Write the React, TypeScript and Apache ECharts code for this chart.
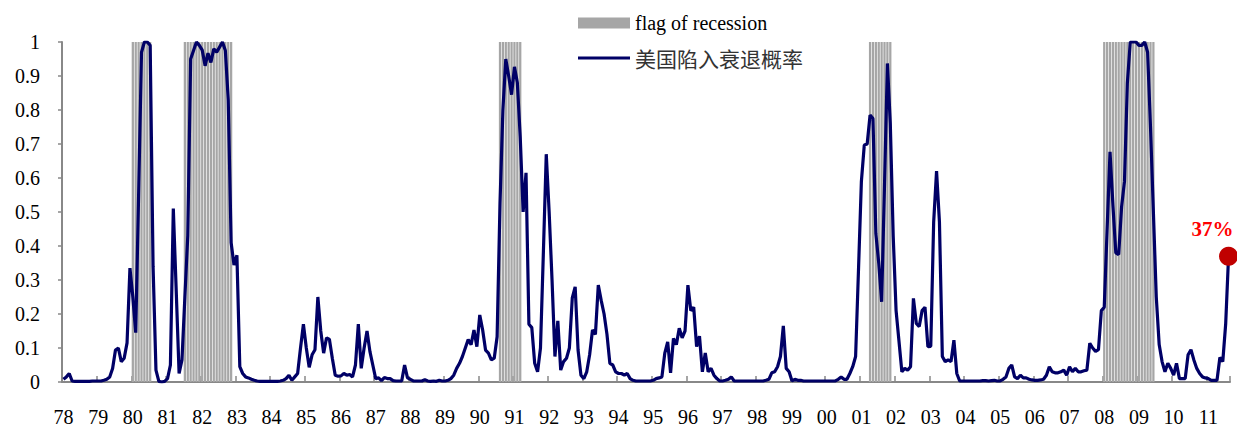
import React, { useEffect, useRef } from "react";
import * as echarts from "echarts";

const START_YEAR = 1978;

// Monthly probability of US recession, Jan 1978 – Aug 2011 (one row per year)
const probability: number[] = [
  0.008, 0.015, 0.025, 0.003, 0.002, 0.002, 0.002, 0.002, 0.002, 0.002, 0.003, 0.003, // 1978
  0.003, 0.003, 0.005, 0.008, 0.015, 0.04, 0.094, 0.1, 0.06, 0.07, 0.115, 0.335, // 1979
  0.25, 0.145, 0.55, 0.97, 1.0, 1.0, 0.99, 0.34, 0.035, 0.002, 0.0, 0.002, // 1980
  0.01, 0.05, 0.51, 0.27, 0.025, 0.065, 0.25, 0.43, 0.95, 0.975, 1.0, 0.99, // 1981
  0.976, 0.93, 0.967, 0.94, 0.98, 0.97, 0.985, 1.0, 0.975, 0.83, 0.41, 0.344, // 1982
  0.373, 0.045, 0.025, 0.015, 0.012, 0.008, 0.005, 0.003, 0.002, 0.002, 0.002, 0.002, // 1983
  0.002, 0.002, 0.002, 0.003, 0.005, 0.01, 0.02, 0.005, 0.015, 0.025, 0.1, 0.17, // 1984
  0.1, 0.043, 0.08, 0.095, 0.25, 0.15, 0.085, 0.13, 0.125, 0.07, 0.02, 0.017, // 1985
  0.018, 0.025, 0.02, 0.022, 0.015, 0.05, 0.17, 0.04, 0.1, 0.15, 0.09, 0.05, // 1986
  0.01, 0.012, 0.004, 0.013, 0.01, 0.01, 0.004, 0.003, 0.003, 0.003, 0.05, 0.012, // 1987
  0.008, 0.003, 0.003, 0.003, 0.003, 0.007, 0.003, 0.002, 0.003, 0.002, 0.005, 0.003, // 1988
  0.003, 0.005, 0.01, 0.02, 0.04, 0.055, 0.075, 0.1, 0.125, 0.11, 0.153, 0.104, // 1989
  0.197, 0.153, 0.094, 0.085, 0.065, 0.07, 0.133, 0.525, 0.8, 0.95, 0.9, 0.845, // 1990
  0.927, 0.88, 0.72, 0.5, 0.615, 0.17, 0.16, 0.055, 0.03, 0.1, 0.38, 0.67, // 1991
  0.5, 0.3, 0.075, 0.18, 0.035, 0.06, 0.07, 0.1, 0.247, 0.28, 0.094, 0.02, // 1992
  0.01, 0.03, 0.08, 0.153, 0.14, 0.285, 0.24, 0.2, 0.14, 0.055, 0.05, 0.03, // 1993
  0.025, 0.025, 0.02, 0.025, 0.01, 0.005, 0.003, 0.003, 0.003, 0.003, 0.003, 0.003, // 1994
  0.005, 0.01, 0.012, 0.015, 0.085, 0.118, 0.027, 0.128, 0.11, 0.158, 0.13, 0.15, // 1995
  0.285, 0.21, 0.22, 0.104, 0.135, 0.03, 0.085, 0.03, 0.04, 0.02, 0.01, 0.003, // 1996
  0.003, 0.005, 0.008, 0.015, 0.003, 0.003, 0.003, 0.003, 0.003, 0.003, 0.003, 0.003, // 1997
  0.003, 0.003, 0.003, 0.005, 0.008, 0.027, 0.03, 0.045, 0.075, 0.165, 0.04, 0.03, // 1998
  0.003, 0.008, 0.005, 0.005, 0.003, 0.003, 0.003, 0.003, 0.003, 0.003, 0.003, 0.003, // 1999
  0.003, 0.003, 0.003, 0.003, 0.008, 0.015, 0.008, 0.008, 0.025, 0.045, 0.075, 0.33, // 2000
  0.59, 0.697, 0.7, 0.785, 0.775, 0.437, 0.35, 0.236, 0.58, 0.937, 0.76, 0.43, // 2001
  0.21, 0.12, 0.03, 0.04, 0.035, 0.045, 0.246, 0.172, 0.163, 0.21, 0.22, 0.104, // 2002
  0.105, 0.47, 0.62, 0.47, 0.075, 0.06, 0.065, 0.06, 0.123, 0.025, 0.003, 0.003, // 2003
  0.003, 0.003, 0.003, 0.003, 0.003, 0.003, 0.004, 0.004, 0.003, 0.004, 0.005, 0.003, // 2004
  0.003, 0.008, 0.015, 0.04, 0.05, 0.015, 0.01, 0.02, 0.012, 0.012, 0.008, 0.006, // 2005
  0.005, 0.005, 0.006, 0.008, 0.02, 0.045, 0.03, 0.027, 0.027, 0.03, 0.035, 0.02, // 2006
  0.045, 0.03, 0.04, 0.03, 0.03, 0.033, 0.035, 0.114, 0.1, 0.09, 0.095, 0.21, // 2007
  0.22, 0.45, 0.677, 0.52, 0.38, 0.375, 0.515, 0.59, 0.88, 1.0, 1.0, 1.0, // 2008
  0.99, 0.99, 1.0, 0.97, 0.75, 0.5, 0.25, 0.11, 0.06, 0.03, 0.055, 0.04, // 2009
  0.02, 0.055, 0.01, 0.01, 0.01, 0.08, 0.095, 0.065, 0.04, 0.025, 0.015, 0.012, // 2010
  0.01, 0.005, 0.005, 0.005, 0.072, 0.06, 0.17, 0.37, // 2011
];

// Recession periods (first and last month flagged)
const recessions: [string, string][] = [
  ["1980-01", "1980-07"],
  ["1981-07", "1982-11"],
  ["1990-08", "1991-03"],
  ["2001-04", "2001-11"],
  ["2008-01", "2009-06"],
];

const yTicks: number[] = [0, 0.1, 0.2, 0.3, 0.4, 0.5, 0.6, 0.7, 0.8, 0.9, 1];

const months: string[] = probability.map((_, i) => {
  const y = START_YEAR + Math.floor(i / 12);
  const m = (i % 12) + 1;
  return `${y}-${String(m).padStart(2, "0")}`;
});

const recessionFlag = months.map((m) =>
  recessions.some(([a, b]) => m >= a && m <= b) ? 1 : null
);

const SERIF = '"Liberation Serif", "Times New Roman", serif';
const CJK = '"Noto Sans CJK SC", sans-serif';

export default function App() {
  const ref = useRef<HTMLDivElement>(null);

  useEffect(() => {
    if (!ref.current) return;
    const chart = echarts.init(ref.current, undefined, { renderer: "svg" });
    const last = probability.length - 1;
    const axisColor = "#888888";

    chart.setOption({
      animation: false,
      grid: { left: 62, right: 7, top: 42, bottom: 46, containLabel: false },
      legend: {
        orient: "vertical",
        left: 578,
        top: 11,
        itemWidth: 52,
        itemHeight: 11,
        itemGap: 11,
        padding: 0,
        selectedMode: false,
        textStyle: { color: "#000", lineHeight: 24 },
        data: [
          {
            name: "flag of recession",
            icon: "rect",
            textStyle: { fontFamily: SERIF, fontSize: 20, color: "#000" },
          },
          {
            name: "美国陷入衰退概率",
            icon: "path://M0,0H52V3.2H0Z",
            itemStyle: { color: "#000066" },
            textStyle: { fontFamily: CJK, fontSize: 21, color: "#333" },
          },
        ],
      },
      xAxis: {
        type: "category",
        data: months,
        boundaryGap: true,
        axisLine: { show: true, lineStyle: { color: axisColor, width: 2 } },
        axisTick: {
          show: true,
          inside: true,
          length: 6,
          interval: (i: number) => i % 12 === 0,
          lineStyle: { color: axisColor, width: 1.5 },
        },
        axisLabel: {
          interval: (i: number) => i % 12 === 0,
          formatter: (v: string) => v.slice(2, 4),
          fontFamily: SERIF,
          fontSize: 20,
          color: "#000",
          margin: 25,
        },
        splitLine: { show: false },
      },
      yAxis: {
        type: "value",
        min: yTicks[0],
        max: yTicks[yTicks.length - 1],
        interval: 0.1,
        axisLine: { show: true, lineStyle: { color: axisColor, width: 2 } },
        axisTick: { show: true, length: 4, lineStyle: { color: axisColor, width: 1.5 } },
        axisLabel: {
          formatter: (v: number) => String(Math.round(v * 10) / 10),
          fontFamily: SERIF,
          fontSize: 20,
          color: "#000",
          margin: 22,
        },
        splitLine: { show: false },
      },
      series: [
        {
          name: "flag of recession",
          type: "bar",
          data: recessionFlag,
          barCategoryGap: "22%",
          itemStyle: { color: "#a6a6a6" },
          silent: true,
        },
        {
          name: "美国陷入衰退概率",
          type: "line",
          data: probability,
          symbol: "none",
          lineStyle: { color: "#000066", width: 3.2 },
          itemStyle: { color: "#000066" },
          z: 3,
          markPoint: {
            silent: true,
            data: [
              {
                coord: [last, probability[last]],
                symbol: "circle",
                symbolSize: 19,
                itemStyle: { color: "#c00000" },
                label: {
                  show: true,
                  position: "top",
                  distance: 7,
                  offset: [-16, 0],
                  formatter: `${Math.round(probability[last] * 100)}%`,
                  color: "#ff0000",
                  fontWeight: "bold",
                  fontSize: 21,
                  fontFamily: SERIF,
                },
              },
            ],
          },
        },
      ],
    });

    return () => chart.dispose();
  }, []);

  return (
    <div
      ref={ref}
      style={{ position: "fixed", left: 0, top: 0, width: 1237, height: 428, background: "#fff" }}
    />
  );
}
